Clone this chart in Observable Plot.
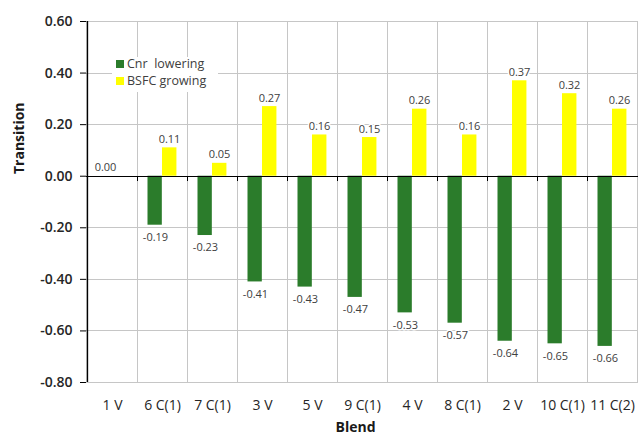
<!DOCTYPE html>
<html><head><meta charset="utf-8">
<script src="https://cdn.jsdelivr.net/npm/d3@7"></script>
<script src="https://cdn.jsdelivr.net/npm/@observablehq/plot@0.6"></script>
<style>
body{margin:0;background:#fff;font-family:"Open Sans",sans-serif}
#wrap{position:relative;width:638px;height:438px;overflow:hidden}
#legend{position:absolute;left:112px;top:57px;width:106px;height:35px;background:#fff;font-size:12.5px;color:#404040}
.item{position:absolute;left:4px;height:14px;line-height:14px;white-space:pre}
.sw{display:inline-block;width:8px;height:8px;margin-right:3px;vertical-align:0px}
</style></head>
<body><div id="wrap"></div>
<script>
const blends = ["1 V","6 C(1)","7 C(1)","3 V","5 V","9 C(1)","4 V","8 C(1)","2 V","10 C(1)","11 C(2)"];
const cnrLowering = [0.00,-0.19,-0.23,-0.41,-0.43,-0.47,-0.53,-0.57,-0.64,-0.65,-0.66];
const bsfcGrowing = [null,0.11,0.05,0.27,0.16,0.15,0.26,0.16,0.37,0.32,0.26];
const yTicks = [0.6,0.4,0.2,0,-0.2,-0.4,-0.6,-0.8];
const seriesNames = ["Cnr  lowering","BSFC growing"];
const seriesColors = ["#2b7c2b","#ffff00"];
const xTitle = "Blend", yTitle = "Transition";

const cnr = blends.map((b,i)=>({blend:b, value:cnrLowering[i]}));
const bsfc = blends.map((b,i)=>({blend:b, value:bsfcGrowing[i]})).filter(d=>d.value!=null);
const fmt = v => v.toFixed(2);
const W = 638, H = 438, mL = 86, mR = 0;
const half = (W - mL - mR) / blends.length / 2;
const grid = "#c6c6c6";
const lab = {fontSize: 11, fill: "#404040", stroke: "white", strokeWidth: 3, paintOrder: "stroke"};

const chart = Plot.plot({
  width: W, height: H,
  marginLeft: mL, marginRight: mR, marginTop: 21, marginBottom: 56,
  style: {fontFamily: "Open Sans", fontSize: "14px", color: "#262626", background: "white"},
  x: {domain: blends, padding: 0, label: null},
  y: {domain: [-0.8, 0.6], label: null},
  marks: [
    Plot.cell(blends, {x: d=>d, fill: "none", stroke: grid, shapeRendering: "crispEdges"}),
    Plot.ruleY(yTicks, {stroke: grid, shapeRendering: "crispEdges"}),
    Plot.barY(cnr, {x: "blend", y: "value", fill: seriesColors[0], insetLeft: 10.5, insetRight: half*2 - 25}),
    Plot.barY(bsfc, {x: "blend", y: "value", fill: seriesColors[1], insetLeft: 25, insetRight: half*2 - 39.6}),
    Plot.ruleY([0], {stroke: "black", shapeRendering: "crispEdges"}),
    Plot.ruleX(blends, {x: d=>d, dx: -half, y1: 0, y2: -0.02, stroke: "black", shapeRendering: "crispEdges"}),
    Plot.ruleX([blends[0]], {x: d=>d, dx: -half, y1: -0.8, y2: 0.6, stroke: "black", strokeWidth: 1.5}),
    Plot.axisY({ticks: yTicks, tickFormat: fmt, tickSize: 6, tickPadding: 8, label: null, fontWeight: 600, stroke: "black"}),
    Plot.axisX({tickSize: 0, tickPadding: 18, label: null}),
    Plot.text(cnr.filter(d=>d.value<0), {x: "blend", y: "value", text: d=>fmt(d.value), dx: -7, dy: 8, lineAnchor: "top", ...lab}),
    Plot.text(cnr.filter(d=>d.value>=0), {x: "blend", y: "value", text: d=>fmt(d.value), dx: -7, dy: -5, lineAnchor: "bottom", ...lab}),
    Plot.text(bsfc, {x: "blend", y: "value", text: d=>fmt(d.value), dx: 7, dy: -5, lineAnchor: "bottom", ...lab}),
    Plot.text([yTitle], {frameAnchor: "left", rotate: -90, dx: -67, dy: -28, fontWeight: "bold", fontSize: 14, fill: "#1a1a1a"}),
    Plot.text([xTitle], {frameAnchor: "bottom", dx: -7, dy: 49, fontWeight: "bold", fontSize: 14, fill: "#1a1a1a"})
  ]
});
const wrap = document.getElementById("wrap");
wrap.appendChild(chart);
const leg = document.createElement("div");
leg.id = "legend";
seriesNames.forEach((n,i)=>{
  const it = document.createElement("div");
  it.className = "item";
  it.style.top = (i*17 + 0) + "px";
  it.innerHTML = `<span class="sw" style="background:${seriesColors[i]}"></span>`;
  it.appendChild(document.createTextNode(n));
  leg.appendChild(it);
});
wrap.appendChild(leg);
</script></body></html>
